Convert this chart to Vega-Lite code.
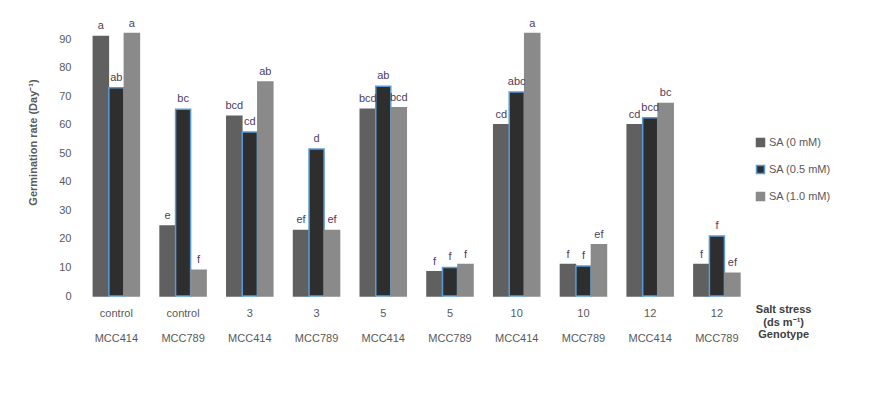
{
  "$schema": "https://vega.github.io/schema/vega-lite/v6.json",
  "autosize": "none",
  "width": 734,
  "height": 271,
  "padding": {"left": 83, "top": 25, "right": 58, "bottom": 112},
  "background": "white",
  "config": {
    "font": "Liberation Sans",
    "view": {"stroke": null}
  },
  "data": {
    "values": [
      {"group": "control|MCC414", "sa": "SA (0 mM)", "value": 91, "letter": "a"},
      {"group": "control|MCC414", "sa": "SA (0.5 mM)", "value": 73, "letter": "ab"},
      {"group": "control|MCC414", "sa": "SA (1.0 mM)", "value": 92, "letter": "a"},
      {"group": "control|MCC789", "sa": "SA (0 mM)", "value": 24.5, "letter": "e"},
      {"group": "control|MCC789", "sa": "SA (0.5 mM)", "value": 65.5, "letter": "bc"},
      {"group": "control|MCC789", "sa": "SA (1.0 mM)", "value": 9, "letter": "f"},
      {"group": "3|MCC414", "sa": "SA (0 mM)", "value": 63, "letter": "bcd"},
      {"group": "3|MCC414", "sa": "SA (0.5 mM)", "value": 57.5, "letter": "cd"},
      {"group": "3|MCC414", "sa": "SA (1.0 mM)", "value": 75, "letter": "ab"},
      {"group": "3|MCC789", "sa": "SA (0 mM)", "value": 23, "letter": "ef"},
      {"group": "3|MCC789", "sa": "SA (0.5 mM)", "value": 51.5, "letter": "d"},
      {"group": "3|MCC789", "sa": "SA (1.0 mM)", "value": 23, "letter": "ef"},
      {"group": "5|MCC414", "sa": "SA (0 mM)", "value": 65.5, "letter": "bcd"},
      {"group": "5|MCC414", "sa": "SA (0.5 mM)", "value": 73.5, "letter": "ab"},
      {"group": "5|MCC414", "sa": "SA (1.0 mM)", "value": 66, "letter": "bcd"},
      {"group": "5|MCC789", "sa": "SA (0 mM)", "value": 8.5, "letter": "f"},
      {"group": "5|MCC789", "sa": "SA (0.5 mM)", "value": 10, "letter": "f"},
      {"group": "5|MCC789", "sa": "SA (1.0 mM)", "value": 11, "letter": "f"},
      {"group": "10|MCC414", "sa": "SA (0 mM)", "value": 60, "letter": "cd"},
      {"group": "10|MCC414", "sa": "SA (0.5 mM)", "value": 71.5, "letter": "abc"},
      {"group": "10|MCC414", "sa": "SA (1.0 mM)", "value": 92, "letter": "a"},
      {"group": "10|MCC789", "sa": "SA (0 mM)", "value": 11, "letter": "f"},
      {"group": "10|MCC789", "sa": "SA (0.5 mM)", "value": 10.5, "letter": "f"},
      {"group": "10|MCC789", "sa": "SA (1.0 mM)", "value": 18, "letter": "ef"},
      {"group": "12|MCC414", "sa": "SA (0 mM)", "value": 60, "letter": "cd"},
      {"group": "12|MCC414", "sa": "SA (0.5 mM)", "value": 62.5, "letter": "bcd"},
      {"group": "12|MCC414", "sa": "SA (1.0 mM)", "value": 67.5, "letter": "bc"},
      {"group": "12|MCC789", "sa": "SA (0 mM)", "value": 11, "letter": "f"},
      {"group": "12|MCC789", "sa": "SA (0.5 mM)", "value": 21, "letter": "f"},
      {"group": "12|MCC789", "sa": "SA (1.0 mM)", "value": 8, "letter": "ef"}
    ]
  },
  "encoding": {
    "x": {
      "field": "group",
      "type": "nominal",
      "scale": {
        "domain": ["control|MCC414", "control|MCC789", "3|MCC414", "3|MCC789", "5|MCC414", "5|MCC789", "10|MCC414", "10|MCC789", "12|MCC414", "12|MCC789", "title"],
        "paddingInner": 0.31,
        "paddingOuter": 0.155
      },
      "axis": {
        "title": null,
        "domain": false,
        "ticks": false,
        "labelAngle": 0,
        "labelPadding": {"condition": {"test": "datum.value == 'title'", "value": 7.5}, "value": 11.5},
        "labelBaseline": "top",
        "labelLineHeight": 12.5,
        "labelFontSize": 11,
        "labelColor": {"condition": {"test": "datum.value == 'title'", "value": "#404040"}, "value": "#595959"},
        "labelFontWeight": {"condition": {"test": "datum.value == 'title'", "value": "bold"}, "value": "normal"},
        "labelExpr": "datum.value == 'title' ? ['Salt stress', '(ds m⁻¹)', 'Genotype'] : [split(datum.value, '|')[0], '⠀', split(datum.value, '|')[1]]"
      }
    },
    "xOffset": {
      "field": "sa",
      "type": "nominal",
      "scale": {"domain": ["SA (0 mM)", "SA (0.5 mM)", "SA (1.0 mM)"], "paddingInner": 0.03}
    },
    "y": {
      "field": "value",
      "type": "quantitative",
      "scale": {"domain": [0, 95], "nice": false},
      "axis": {
        "title": "Germination rate (Day⁻¹)",
        "titleFontWeight": "bold",
        "titleFontSize": 11,
        "titleColor": "#595959",
        "titlePadding": 20,
        "titleY": 117,
        "values": [0, 10, 20, 30, 40, 50, 60, 70, 80, 90],
        "grid": false,
        "domain": false,
        "ticks": false,
        "labelPadding": 12,
        "labelFontSize": 11,
        "labelColor": "#595959"
      }
    }
  },
  "layer": [
    {
      "mark": {"type": "bar", "strokeWidth": 1.5},
      "encoding": {
        "fill": {
          "field": "sa",
          "type": "nominal",
          "scale": {"domain": ["SA (0 mM)", "SA (0.5 mM)", "SA (1.0 mM)"], "range": ["#606060", "#2e2e2e", "#8a8a8a"]},
          "legend": {
            "title": null,
            "orient": "none",
            "legendX": 672,
            "legendY": 112,
            "padding": 0,
            "symbolType": "square",
            "symbolSize": 64,
            "rowPadding": 12,
            "labelFontSize": 11,
            "labelColor": "#595959",
            "labelOffset": 3
          }
        },
        "stroke": {
          "field": "sa",
          "type": "nominal",
          "scale": {"domain": ["SA (0 mM)", "SA (0.5 mM)", "SA (1.0 mM)"], "range": ["#606060", "#5b9bd5", "#8a8a8a"]},
          "legend": null
        }
      }
    },
    {
      "mark": {"type": "text", "baseline": "bottom", "dy": -5, "fontSize": 11, "color": "#4d4060"},
      "encoding": {
        "text": {"field": "letter"}
      }
    }
  ]
}
